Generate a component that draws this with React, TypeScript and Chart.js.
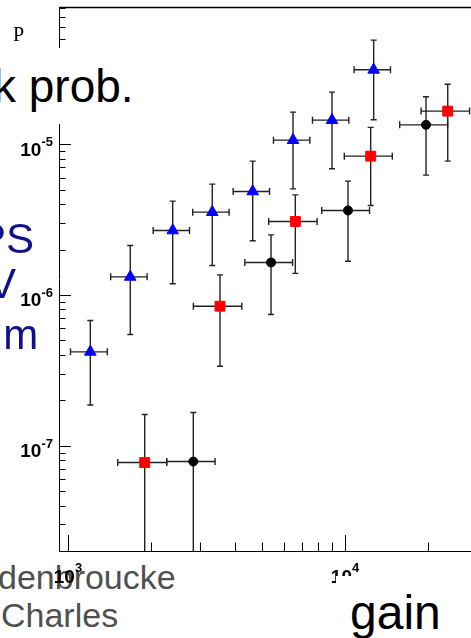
import React, { useEffect, useRef } from "react";
import { Chart, registerables } from "chart.js";

Chart.register(...registerables);

// ---- data ----
const blueX = [1204, 1678, 2388, 3318, 4643, 6492, 8976, 12690];
const blueXErr = [183, 252, 358, 498, 696, 974, 1346, 1904];
const blueY = [4.19e-7, 1.317e-6, 2.676e-6, 3.538e-6, 4.854e-6, 1.063e-5, 1.443e-5, 3.112e-5];
const blueYErrUp = [2.57e-7, 8.1e-7, 1.51e-6, 1.89e-6, 2.86e-6, 5.67e-6, 7.7e-6, 1.787e-5];
const blueYErrDown = [2.33e-7, 7.71e-7, 1.49e-6, 1.97e-6, 2.57e-6, 5.58e-6, 7.57e-6, 1.662e-5];

const redX = [1892, 3538, 6617, 12380, 23490];
const redXErr = [380, 703, 1314, 2438, 4665];
const redY = [7.72e-8, 8.41e-7, 3.07e-6, 8.325e-6, 1.656e-5];
const redYErrUp = [8.36e-8, 5.16e-7, 1.54e-6, 4.59e-6, 8.4e-6];
const redYErrDown = [8.36e-8, 5.05e-7, 1.68e-6, 4.41e-6, 8.85e-6];

const blackX = [2834, 5407, 10252, 19610];
const blackXErr = [562, 1059, 2010, 3855];
const blackY = [7.84e-8, 1.641e-6, 3.631e-6, 1.343e-5];
const blackYErrUp = [8.74e-8, 8.6e-7, 2.05e-6, 7.17e-6];
const blackYErrDown = [8.74e-8, 9.0e-7, 1.96e-6, 7.2e-6];

const xMin = 928;
const xMax = 28500;
const yMin = 2e-8;
const yMax = 8e-5;
const xLabelExps = [3, 4];
const yLabelExps = [-5, -6, -7];

type Err = { ex: number[]; eu: number[]; ed: number[] };
const errs: Err[] = [
  { ex: blueXErr, eu: blueYErrUp, ed: blueYErrDown },
  { ex: redXErr, eu: redYErrUp, ed: redYErrDown },
  { ex: blackXErr, eu: blackYErrUp, ed: blackYErrDown },
];

const toPts = (xs: number[], ys: number[]) => xs.map((x, i) => ({ x, y: ys[i] }));

const LABEL_FONT = '"Liberation Sans", Arial, sans-serif';

const rootPlugin = {
  id: "rootFrame",
  beforeDatasetsDraw(chart: any) {
    const ctx = chart.ctx;
    const xs = chart.scales.x;
    const ys = chart.scales.y;
    const area = chart.chartArea;
    ctx.save();
    ctx.beginPath();
    ctx.rect(area.left, area.top, area.right - area.left + 2, area.bottom - area.top);
    ctx.clip();
    ctx.strokeStyle = "#222";
    ctx.lineWidth = 1.4;
    chart.data.datasets.forEach((ds: any, di: number) => {
      const e = errs[di];
      ds.data.forEach((p: any, i: number) => {
        const px = xs.getPixelForValue(p.x);
        const py = ys.getPixelForValue(p.y);
        const xl = xs.getPixelForValue(p.x - e.ex[i]);
        const xr = xs.getPixelForValue(p.x + e.ex[i]);
        const yt = ys.getPixelForValue(p.y + e.eu[i]);
        const lowVal = p.y - e.ed[i];
        const clamped = !(lowVal > yMin);
        const yb = clamped ? area.bottom : ys.getPixelForValue(lowVal);
        ctx.beginPath();
        ctx.moveTo(xl, py);
        ctx.lineTo(xr, py);
        ctx.moveTo(px, yt);
        ctx.lineTo(px, yb);
        ctx.moveTo(xl, py - 3.5);
        ctx.lineTo(xl, py + 3.5);
        ctx.moveTo(xr, py - 3.5);
        ctx.lineTo(xr, py + 3.5);
        ctx.moveTo(px - 3, yt);
        ctx.lineTo(px + 3, yt);
        if (!clamped) {
          ctx.moveTo(px - 3, yb);
          ctx.lineTo(px + 3, yb);
        }
        ctx.stroke();
      });
    });
    ctx.restore();
  },
  afterDraw(chart: any) {
    const ctx = chart.ctx;
    const xs = chart.scales.x;
    const ys = chart.scales.y;
    const a = chart.chartArea;
    ctx.save();
    ctx.strokeStyle = "#000";
    ctx.lineWidth = 1.6;
    ctx.beginPath();
    ctx.moveTo(a.left, a.top - 0.5);
    ctx.lineTo(a.right, a.top - 0.5);
    ctx.stroke();
    ctx.lineWidth = 1;
    ctx.beginPath();
    ctx.moveTo(a.left + 0.5, a.top - 1);
    ctx.lineTo(a.left + 0.5, a.bottom + 1);
    ctx.moveTo(a.left, a.bottom + 0.5);
    ctx.lineTo(a.right, a.bottom + 0.5);
    ctx.stroke();
    ctx.beginPath();
    for (let e = -8; e <= -5; e++) {
      for (let k = 1; k <= 9; k++) {
        const v = k * Math.pow(10, e);
        if (v < yMin * 0.999 || v > yMax * 1.001) continue;
        const y = Math.round(ys.getPixelForValue(v)) + 0.5;
        const len = k === 1 ? 12 : 6.5;
        ctx.moveTo(a.left, y);
        ctx.lineTo(a.left + len, y);
      }
    }
    for (let e = 2; e <= 4; e++) {
      for (let k = 1; k <= 9; k++) {
        const v = k * Math.pow(10, e);
        if (v < xMin * 0.999 || v > xMax * 1.001) continue;
        const x = Math.round(xs.getPixelForValue(v)) + 0.5;
        const len = k === 1 ? 16 : 8.5;
        ctx.moveTo(x, a.bottom);
        ctx.lineTo(x, a.bottom - len);
      }
    }
    ctx.stroke();
    ctx.fillStyle = "#000";
    const bigFont = `bold 19px ${LABEL_FONT}`;
    const supFont = `bold 13px ${LABEL_FONT}`;
    yLabelExps.forEach((e) => {
      const y = ys.getPixelForValue(Math.pow(10, e));
      const sup = String(e);
      ctx.font = supFont;
      const supW = ctx.measureText(sup).width;
      ctx.textAlign = "right";
      ctx.textBaseline = "alphabetic";
      ctx.fillText(sup, a.left - 6, y + 2);
      ctx.font = bigFont;
      ctx.fillText("10", a.left - 6 - supW, y + 11.5);
    });
    xLabelExps.forEach((e) => {
      const x = xs.getPixelForValue(Math.pow(10, e));
      const sup = String(e);
      ctx.font = bigFont;
      const w10 = ctx.measureText("10").width;
      ctx.font = supFont;
      const supW = ctx.measureText(sup).width;
      const start = x - (w10 + supW) / 2;
      ctx.textAlign = "left";
      ctx.textBaseline = "alphabetic";
      ctx.font = bigFont;
      ctx.fillText("10", start, a.bottom + 32);
      ctx.font = supFont;
      ctx.fillText(sup, start + w10, a.bottom + 21);
    });
    ctx.restore();
  },
};

export default function App() {
  const ref = useRef<HTMLCanvasElement | null>(null);
  useEffect(() => {
    if (!ref.current) return;
    const chart = new Chart(ref.current, {
      type: "scatter",
      data: {
        datasets: [
          {
            data: toPts(blueX, blueY),
            pointStyle: "triangle",
            pointRadius: 6.7,
            backgroundColor: "#0000ff",
            borderColor: "#0000ff",
            pointBorderWidth: 1,
          },
          {
            data: toPts(redX, redY),
            pointStyle: "rect",
            pointRadius: 7,
            backgroundColor: "#ff0000",
            borderColor: "#ff0000",
            pointBorderWidth: 1,
          },
          {
            data: toPts(blackX, blackY),
            pointStyle: "circle",
            pointRadius: 4.5,
            backgroundColor: "#000000",
            borderColor: "#000000",
            pointBorderWidth: 1,
          },
        ],
      },
      options: {
        animation: false,
        responsive: false,
        maintainAspectRatio: false,
        devicePixelRatio: 1,
        layout: { autoPadding: false, padding: { left: 59, top: 8, right: 0, bottom: 87 } },
        plugins: { legend: { display: false }, tooltip: { enabled: false } },
        scales: {
          x: { type: "logarithmic", min: xMin, max: xMax, display: false },
          y: { type: "logarithmic", min: yMin, max: yMax, display: false },
        },
      },
      plugins: [rootPlugin],
    } as any);
    return () => chart.destroy();
  }, []);

  const sans = '"Liberation Sans", Arial, sans-serif';
  const abs = (s: React.CSSProperties): React.CSSProperties => ({
    position: "absolute",
    whiteSpace: "nowrap",
    lineHeight: 1,
    margin: 0,
    ...s,
  });

  return (
    <div
      style={{
        position: "absolute",
        left: 0,
        top: 0,
        width: 471,
        height: 638,
        overflow: "hidden",
        background: "#fff",
      }}
    >
      <div style={abs({ left: -2, top: 589 - 28.8, fontSize: 34, fontFamily: sans, color: "#505050", zIndex: 0 })}>
        denbroucke
      </div>
      <div style={abs({ left: 1, top: 627 - 28.8, fontSize: 34, fontFamily: sans, color: "#505050", zIndex: 0 })}>
        Charles
      </div>
      <canvas
        ref={ref}
        width={471}
        height={638}
        style={{ position: "absolute", left: 0, top: 0, width: 471, height: 638, zIndex: 1 }}
      />
      <div style={abs({ left: 0, top: 48, width: 145, height: 76, background: "#fff", zIndex: 2 })} />
      <div style={abs({ left: -7, top: 101.7 - 38.9, fontSize: 46, fontFamily: sans, color: "#000", zIndex: 3 })}>
        k prob.
      </div>
      <div style={abs({ left: 13, top: 40.7 - 16.75, fontSize: 20, fontFamily: '"Liberation Serif", "Times New Roman", serif', color: "#000", zIndex: 3 })}>
        P
      </div>
      <div style={abs({ left: -22, top: 254 - 35.6, fontSize: 42, fontFamily: sans, color: "#10108c", zIndex: 3 })}>
        PS
      </div>
      <div style={abs({ left: -12, top: 299 - 35.6, fontSize: 42, fontFamily: sans, color: "#10108c", zIndex: 3 })}>
        V
      </div>
      <div style={abs({ left: -21, top: 350 - 35.6, fontSize: 42, fontFamily: sans, color: "#10108c", zIndex: 3 })}>
        μm
      </div>
      <div style={abs({ left: 336, top: 576, width: 140, height: 70, background: "#fff", zIndex: 2 })} />
      <div style={abs({ left: 350, top: 630 - 40.6, fontSize: 48, fontFamily: sans, color: "#000", zIndex: 3 })}>
        gain
      </div>
    </div>
  );
}
